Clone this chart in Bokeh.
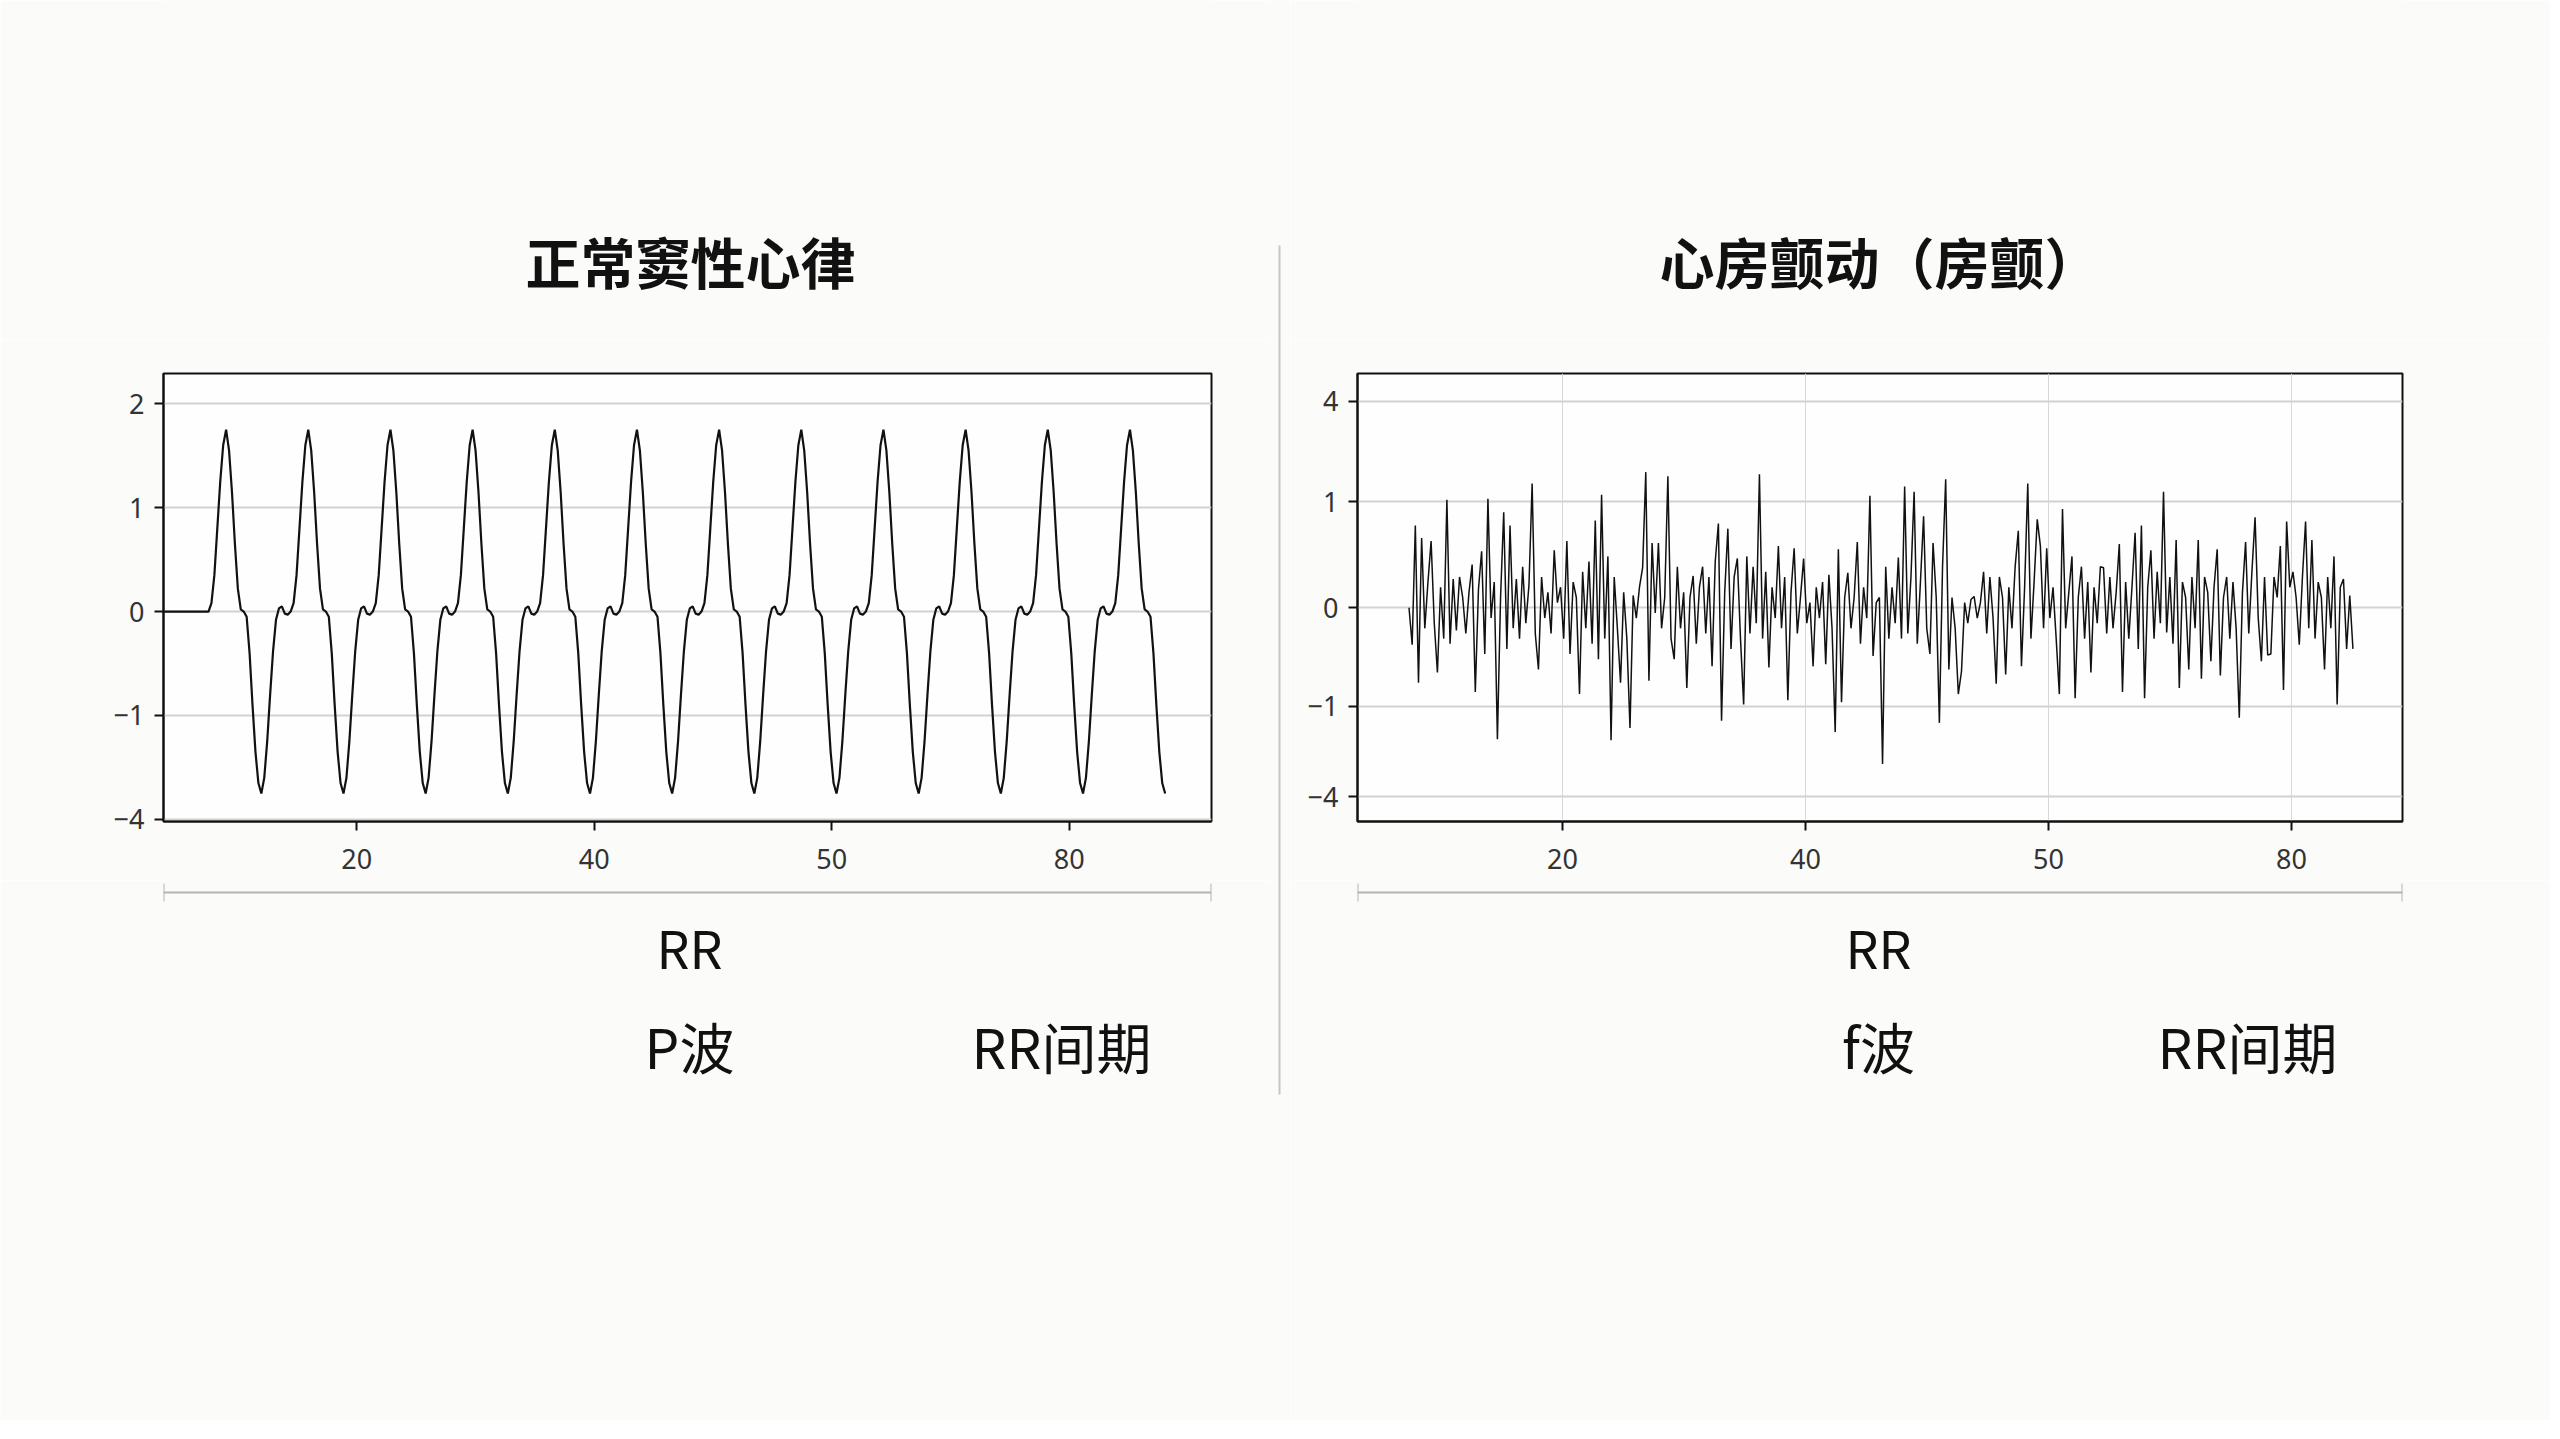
from bokeh.plotting import figure
from bokeh.models import FixedTicker, Range1d
from bokeh.layouts import row, column
from bokeh.embed import file_html
from bokeh.resources import INLINE
from bokeh.core.properties import value

# ---------------- data ----------------
nsr_title = "正常窦性心律"
af_title = "心房颤动（房颤）"

x_tick_pos = [1, 2, 3, 4]
x_tick_labels = ["20", "40", "50", "80"]

nsr_y_tick_pos = [2, 1, 0, -1, -2]
nsr_y_tick_labels = ["2", "1", "0", "\u22121", "\u22124"]

af_y_tick_pos = [2.01, 1.03, 0, -0.96, -1.84]
af_y_tick_labels = ["4", "1", "0", "\u22121", "\u22124"]

# one sinus beat (28 samples per RR interval)
nsr_beat = [0.0, 0.08, 0.35, 0.8, 1.25, 1.6, 1.75, 1.55, 1.15, 0.65,
            0.22, 0.02, 0.0, -0.05, -0.4, -0.9, -1.35, -1.65, -1.75, -1.6,
            -1.25, -0.8, -0.38, -0.08, 0.03, 0.05, -0.02, -0.03]
nsr_beat_count = 12
nsr_rr = 0.346
nsr_first_onset = 0.3755
nsr_trace_start = 0.186
nsr_last_beat_samples = 19

af_values = [
    0.0, -0.36, 0.8, -0.73, 0.68, -0.2, 0.25, 0.65, -0.15, -0.63,
    0.2, -0.3, 1.05, -0.35, 0.28, -0.22, 0.3, 0.1, -0.25, 0.15,
    0.42, -0.82, 0.18, 0.55, -0.45, 1.06, -0.1, 0.25, -1.28, 0.1,
    0.93, -0.4, 0.8, -0.2, 0.28, -0.3, 0.4, -0.15, 0.22, 1.21,
    -0.25, -0.6, 0.3, -0.1, 0.15, -0.25, 0.56, 0.05, 0.2, -0.3,
    0.65, -0.45, 0.25, 0.1, -0.84, 0.35, -0.2, 0.45, -0.35, 0.85,
    -0.5, 1.1, -0.3, 0.5, -1.29, 0.3, -0.2, -0.73, 0.15, -0.3,
    -1.17, 0.12, -0.1, 0.2, 0.39, 1.32, -0.71, 0.63, -0.05, 0.63,
    -0.2, 0.1, 1.28, -0.3, -0.5, 0.4, -0.2, 0.15, -0.78, 0.1,
    0.31, -0.35, 0.2, 0.4, -0.25, 0.3, -0.57, 0.45, 0.82, -1.1,
    0.15, 0.77, -0.4, 0.3, 0.48, -0.3, -0.94, 0.5, -0.25, 0.4,
    -0.15, 1.3, -0.3, 0.35, -0.58, 0.2, -0.1, 0.6, -0.2, 0.3,
    -0.9, 0.15, 0.58, -0.25, 0.1, 0.48, -0.15, 0.05, -0.57, 0.2,
    -0.1, 0.25, -0.55, 0.32, -0.2, -1.21, 0.57, -0.92, 0.1, 0.34,
    -0.2, 0.1, 0.64, -0.35, 0.2, -0.1, 1.09, -0.47, 0.05, 0.1,
    -1.52, 0.4, -0.3, 0.2, -0.15, 0.49, -0.3, 1.18, -0.25, 0.3,
    1.13, -0.35, 0.25, 0.89, -0.2, -0.45, 0.63, 0.1, -1.12, 0.4,
    1.25, -0.6, 0.1, -0.2, -0.84, -0.62, 0.05, -0.15, 0.08, 0.11,
    -0.1, 0.05, 0.35, -0.25, 0.3, -0.1, -0.74, 0.3, 0.1, -0.65,
    0.2, -0.2, 0.4, 0.75, -0.57, 0.2, 1.21, -0.3, 0.25, 0.86,
    0.6, -0.2, 0.58, -0.1, 0.2, -0.3, -0.84, 0.96, -0.2, 0.15,
    0.5, -0.88, 0.1, 0.4, -0.3, 0.25, -0.63, 0.2, -0.15, 0.4,
    0.39, -0.25, 0.3, -0.2, 0.15, 0.62, -0.82, 0.25, -0.3, 0.2,
    0.73, -0.4, 0.8, -0.88, 0.2, 0.56, -0.3, 0.35, -0.15, 1.13,
    -0.24, 0.3, -0.35, 0.66, -0.78, 0.25, 0.1, -0.6, 0.3, -0.2,
    0.66, -0.69, 0.3, 0.15, -0.52, 0.2, 0.57, -0.66, 0.1, 0.3,
    -0.3, 0.25, -0.2, -1.07, 0.15, 0.64, -0.25, 0.35, 0.88, -0.1,
    -0.52, 0.3, -0.46, -0.45, 0.3, 0.1, 0.6, -0.8, 0.84, 0.2,
    0.35, 0.1, -0.36, 0.3, 0.84, -0.2, 0.66, -0.3, 0.25, 0.1,
    -0.6, 0.3, -0.2, 0.5, -0.94, 0.2, 0.28, -0.4, 0.12, -0.4,
]
af_start = 0.368
af_end = 4.253

nsr_notes = ["RR", "P波", "RR间期"]
af_notes = ["RR", "f波", "RR间期"]

# ---------------- build traces ----------------
n_per = len(nsr_beat)
nsr_x = [nsr_trace_start]
nsr_y = [0.0]
for b in range(nsr_beat_count):
    n_take = n_per if b < nsr_beat_count - 1 else nsr_last_beat_samples
    for i in range(n_take):
        nsr_x.append(nsr_first_onset + b * nsr_rr + i * nsr_rr / n_per)
        nsr_y.append(nsr_beat[i])

n_af = len(af_values)
af_x = [af_start + i * (af_end - af_start) / (n_af - 1) for i in range(n_af)]

# ---------------- styling ----------------
BG = "#fbfbf9"
FRAME_BG = "#fefefe"
CJK = "Noto Sans CJK SC"
TICK_FONT = "Noto Sans"
INK = "#111111"


def blank_fig(w, h, left, fw):
    # same horizontal borders as the panel in its column, so that the
    # column's frame alignment keeps an identity mapping (column-local px)
    f = figure(width=w, height=h, x_range=Range1d(left, left + fw), y_range=Range1d(h, 0),
               output_backend="svg", toolbar_location=None,
               min_border_left=left, min_border_right=w - left - fw,
               min_border_top=0, min_border_bottom=0)
    f.axis.visible = False
    f.grid.visible = False
    f.outline_line_color = None
    f.background_fill_color = BG
    f.border_fill_color = BG
    return f


def panel(w, h, left, top, fw, fh, xr, yr, yticks, ylabels, vgrid):
    f = figure(width=w, height=h, x_range=Range1d(*xr), y_range=Range1d(*yr),
               output_backend="svg", toolbar_location=None,
               min_border_left=left, min_border_right=w - left - fw,
               min_border_top=top, min_border_bottom=h - top - fh)
    f.background_fill_color = FRAME_BG
    f.border_fill_color = BG
    f.outline_line_color = INK
    f.outline_line_width = 2
    f.xaxis.ticker = FixedTicker(ticks=x_tick_pos)
    f.xaxis.major_label_overrides = {k: v for k, v in zip(x_tick_pos, x_tick_labels)}
    f.yaxis.ticker = FixedTicker(ticks=yticks)
    f.yaxis.major_label_overrides = {k: v for k, v in zip(yticks, ylabels)}
    for ax in (f.xaxis[0], f.yaxis[0]):
        ax.axis_line_color = INK
        ax.axis_line_width = 2
        ax.major_tick_line_color = INK
        ax.major_tick_line_width = 2
        ax.major_tick_out = 9
        ax.major_tick_in = 0
        ax.minor_tick_line_color = None
        ax.major_label_text_font = TICK_FONT
        ax.major_label_text_font_size = "27px"
        ax.major_label_text_color = "#333333"
    f.xaxis.major_label_standoff = 18
    f.yaxis.major_label_standoff = 10
    f.ygrid.grid_line_color = "#d2d2d2"
    f.ygrid.grid_line_width = 2
    if vgrid:
        f.xgrid.grid_line_color = "#d8d8d8"
        f.xgrid.grid_line_width = 1
    else:
        f.xgrid.grid_line_color = None
    return f


def note_fig(w, h, left, fw, notes, rr_x, wave_x, interval_x):
    f = blank_fig(w, h, left, fw)
    f.segment(x0=[left, left, left + fw], y0=[12, 3, 3],
              x1=[left + fw, left, left + fw], y1=[12, 21, 21],
              line_color="#b4b4b4", line_width=2)
    f.text(x=[rr_x], y=[66], text=[notes[0]], text_font=value(CJK), text_font_size="52px",
           text_align="center", text_baseline="middle", text_color=INK)
    f.text(x=[wave_x, interval_x], y=[164, 164], text=notes[1:], text_font=value(CJK),
           text_font_size="55px", text_align="center", text_baseline="middle", text_color=INK)
    return f


def title_fig(w, h, left, fw, title, cx):
    f = blank_fig(w, h, left, fw)
    f.text(x=[cx], y=[259], text=[title], text_font=value(CJK), text_font_style="bold",
           text_font_size="55px", text_align="center", text_baseline="middle", text_color=INK)
    return f


COL_W_L = 1270
COL_W_R = 1260
DIV_W = 20
TITLE_H = 340
PLOT_H = 540
NOTE_H = 540
FRAME_TOP = 33
FRAME_H = 448

# ---------- left column (column-local x == page x) ----------
L_LEFT, L_FW = 163, 1048
tl = title_fig(COL_W_L, TITLE_H, L_LEFT, L_FW, nsr_title, 690)
pl = panel(COL_W_L, PLOT_H, L_LEFT, FRAME_TOP, L_FW, FRAME_H, (0.186, 4.599), (-2.02, 2.29),
           nsr_y_tick_pos, nsr_y_tick_labels, vgrid=False)
pl.line(nsr_x, nsr_y, line_color=INK, line_width=2.2)
nl = note_fig(COL_W_L, NOTE_H, L_LEFT, L_FW, nsr_notes, 689, 689, 1061)
left_col = column(tl, pl, nl, spacing=0)

# ---------- divider ----------
total_h = TITLE_H + PLOT_H + NOTE_H
dv = figure(width=DIV_W, height=total_h, x_range=Range1d(0, DIV_W), y_range=Range1d(total_h, 0),
            output_backend="svg", toolbar_location=None,
            min_border_left=0, min_border_right=0, min_border_top=0, min_border_bottom=0)
dv.axis.visible = False
dv.grid.visible = False
dv.outline_line_color = None
dv.background_fill_color = BG
dv.border_fill_color = BG
dv.segment(x0=[9], y0=[245], x1=[9], y1=[1094], line_color="#c6c6c6", line_width=2)

# ---------- right column (column-local x == page x - 1290) ----------
R_LEFT, R_FW = 67, 1045
tr = title_fig(COL_W_R, TITLE_H, R_LEFT, R_FW, af_title, 589)
pr = panel(COL_W_R, PLOT_H, R_LEFT, FRAME_TOP, R_FW, FRAME_H, (0.156, 4.457), (-2.08, 2.28),
           af_y_tick_pos, af_y_tick_labels, vgrid=True)
pr.line(af_x, af_values, line_color=INK, line_width=1.5)
nr = note_fig(COL_W_R, NOTE_H, R_LEFT, R_FW, af_notes, 588, 588, 957)
right_col = column(tr, pr, nr, spacing=0)

layout = row(left_col, dv, right_col, spacing=0)

html = file_html(layout, INLINE, title="ECG")
html = html.replace("<body>", '<body style="background:#fbfbf9;">', 1)
open("out.html", "w").write(html)
